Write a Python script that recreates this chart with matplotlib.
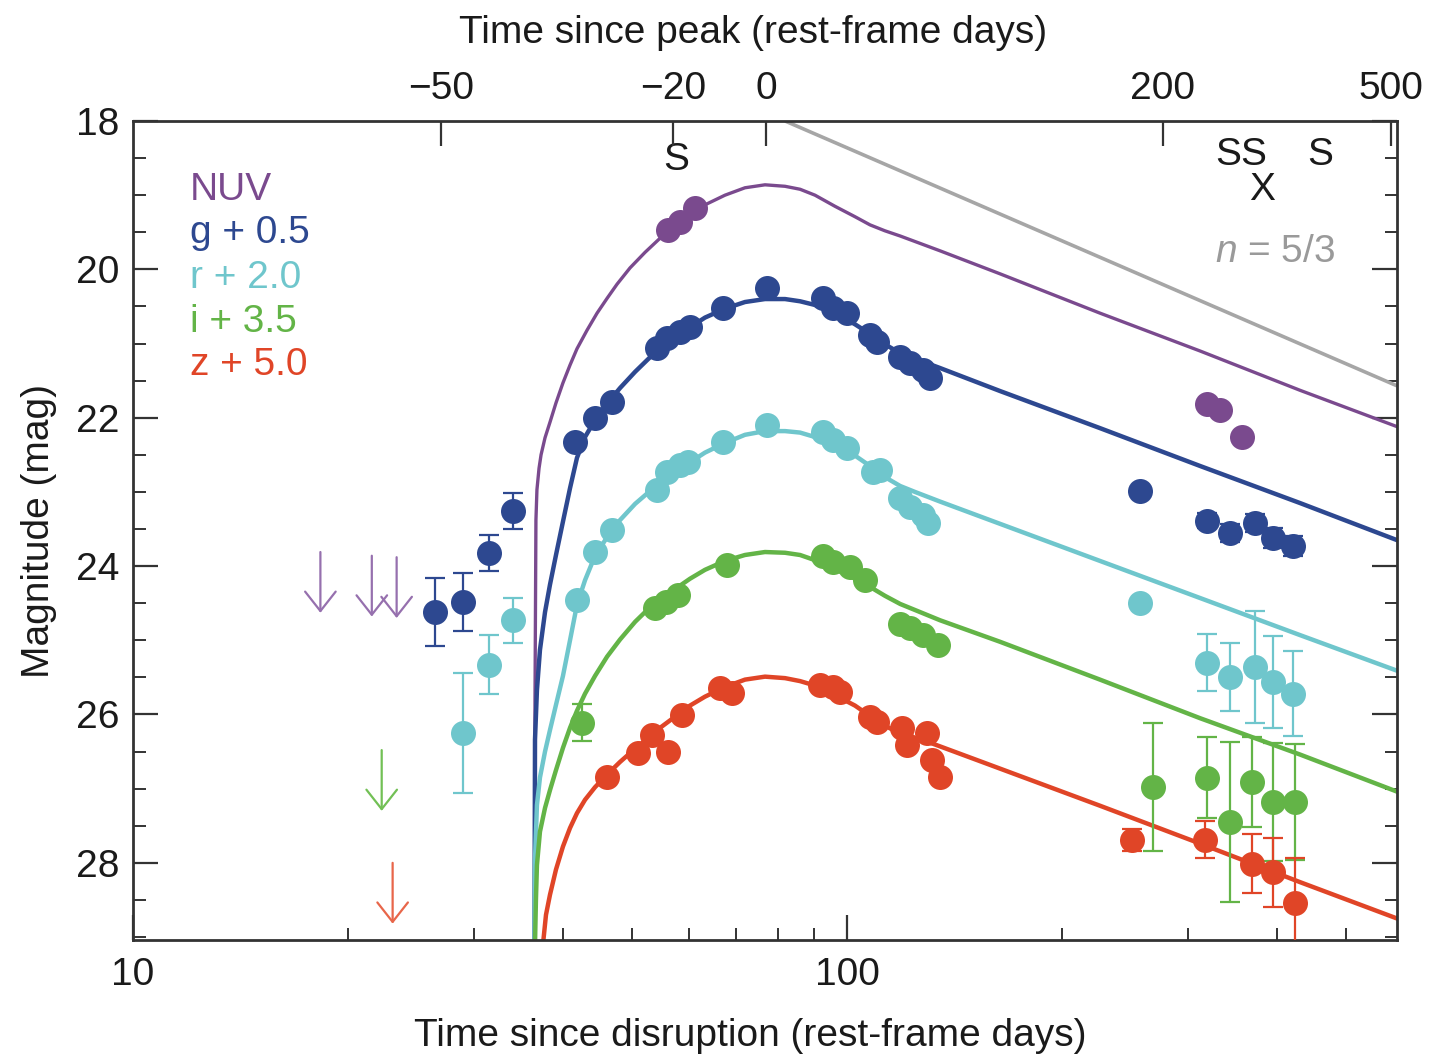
import matplotlib
matplotlib.use('Agg')
import matplotlib.pyplot as plt
from matplotlib.ticker import FixedLocator, FixedFormatter, NullFormatter, NullLocator

plt.rcParams['font.family'] = ['Liberation Sans', 'DejaVu Sans']
plt.rcParams['mathtext.fontset'] = 'custom'
plt.rcParams['mathtext.it'] = 'Liberation Sans:italic'
plt.rcParams['mathtext.rm'] = 'Liberation Sans'

# ---------------- data (time since disruption in rest-frame days, magnitude) -------------
t_peak = 77.0

nuv_t = [56.2, 58.4, 61.3, 319.3, 333.0, 357.4]
nuv_m = [19.47, 19.36, 19.17, 21.81, 21.89, 22.26]
nuv_lim_t = [18.3, 21.6, 23.4]
nuv_lim_m = [23.81, 23.86, 23.88]

g_t = [26.5, 29.0, 31.5, 34.1,
       41.6, 44.4, 46.9, 54.2, 56.0, 58.4, 60.3, 67.0, 77.3, 92.6, 95.6, 100.0,
       107.7, 110.2, 118.7, 122.5, 127.8, 130.7,
       257.3, 319.3, 343.9, 372.7, 395.0, 421.3]
g_m = [24.62, 24.48, 23.82, 23.26,
       22.33, 22.00, 21.79, 21.06, 20.92, 20.84, 20.78, 20.52, 20.25, 20.39, 20.52, 20.59,
       20.88, 20.98, 21.18, 21.26, 21.36, 21.46,
       22.99, 23.39, 23.55, 23.42, 23.62, 23.73]
g_err = [0.46, 0.39, 0.24, 0.24,
         0, 0, 0, 0, 0, 0, 0, 0, 0, 0, 0, 0, 0, 0, 0, 0, 0, 0,
         0, 0.10, 0.12, 0.12, 0.14, 0.14]

r_t = [29.0, 31.5, 34.1,
       41.9, 44.4, 46.9, 54.2, 56.0, 58.4, 59.9, 67.0, 77.3, 92.6, 95.6, 100.0,
       108.7, 111.2, 118.7, 122.5, 127.8, 129.8,
       257.3, 319.3, 343.9, 372.7, 395.0, 421.3]
r_m = [26.25, 25.33, 24.73,
       24.46, 23.81, 23.51, 22.97, 22.73, 22.64, 22.60, 22.33, 22.10, 22.19, 22.30, 22.41,
       22.73, 22.70, 23.08, 23.20, 23.31, 23.42,
       24.50, 25.30, 25.49, 25.36, 25.56, 25.72]
r_err = [0.81, 0.40, 0.30,
         0, 0, 0, 0, 0, 0, 0, 0, 0, 0, 0, 0, 0, 0, 0, 0, 0, 0,
         0, 0.38, 0.46, 0.75, 0.62, 0.57]

i_t = [42.6, 53.8, 55.7, 58.0, 67.9, 92.6, 95.6, 101.0, 106.0, 118.7, 122.5, 127.8, 134.1,
       268.3, 319.3, 343.9, 369.1, 395.0, 424.1]
i_m = [26.11, 24.56, 24.48, 24.39, 23.98, 23.86, 23.94, 24.01, 24.19, 24.78, 24.83, 24.93, 25.06,
       26.98, 26.85, 27.45, 26.91, 27.18, 27.18]
i_err = [0.25, 0, 0, 0, 0, 0, 0, 0, 0, 0, 0, 0, 0,
         0.86, 0.55, 1.08, 0.60, 0.80, 0.78]
i_lim_t = [22.3]
i_lim_m = [26.48]

z_t = [46.1, 51.0, 53.3, 56.2, 58.7, 66.4, 69.0, 91.7, 95.6, 97.8, 107.7, 110.2,
       119.4, 121.4, 129.4, 131.5, 135.0,
       250.6, 317.2, 369.1, 395.0, 424.1]
z_m = [26.84, 26.52, 26.28, 26.50, 26.01, 25.64, 25.71, 25.60, 25.63, 25.70, 26.03, 26.10,
       26.18, 26.41, 26.25, 26.61, 26.84,
       27.69, 27.69, 28.01, 28.13, 28.54]
z_err = [0, 0, 0, 0, 0, 0, 0, 0, 0, 0, 0, 0, 0, 0, 0, 0, 0,
         0.15, 0.25, 0.40, 0.47, 0.60]
z_lim_t = [23.1]
z_lim_m = [28.0]

# model light curves
mod_t_common = [41.86, 42.96, 44.37, 46.13, 48.09, 50.50, 52.65, 54.72, 57.42, 60.27, 63.25,
                67.46, 71.96, 76.76, 81.88, 85.95, 90.20, 96.21, 102.6, 107.7, 113.0, 118.7]

nuv_mod_t = [36.50, 36.56, 36.67, 36.79, 37.04, 37.28, 37.76, 38.37, 39.12, 40.01, 40.93,
             41.86, 43.24, 44.66, 46.13, 47.63, 49.67, 52.14, 54.72, 57.42, 60.27, 63.25,
             67.46, 71.96, 76.76, 81.88, 85.95, 90.20, 96.21, 102.6, 107.7, 113.0, 118.7,
             135.0, 163.8, 226.1, 312.2, 431.0, 589.3]
nuv_mod_m = [29.10, 25.80, 23.38, 22.97, 22.68, 22.50, 22.27, 22.06, 21.80, 21.53, 21.29,
             21.07, 20.82, 20.59, 20.39, 20.20, 19.98, 19.77, 19.58, 19.42, 19.27, 19.13,
             19.00, 18.90, 18.86, 18.88, 18.92, 19.00, 19.15, 19.29, 19.40, 19.48, 19.55,
             19.75, 20.06, 20.59, 21.10, 21.63, 22.12]

g_mod_t = [36.50, 36.56, 36.79, 37.15, 37.76, 38.37, 39.12, 40.01, 40.93] + mod_t_common + \
          [135.0, 163.8, 226.1, 312.2, 431.0, 589.3]
g_mod_m = [29.10, 26.34, 25.67, 25.13, 24.62, 24.25, 23.85, 23.40, 22.95,
           22.54, 22.26, 22.03, 21.81, 21.60, 21.38, 21.21, 21.06, 20.91, 20.78, 20.65,
           20.53, 20.44, 20.40, 20.40, 20.43, 20.48, 20.59, 20.74, 20.87, 21.01, 21.13,
           21.33, 21.64, 22.14, 22.65, 23.15, 23.65]

r_mod_t = [36.50, 36.56, 36.79, 37.15, 37.76, 38.37, 39.12, 40.01, 40.93] + mod_t_common + \
          [124.5, 135.0, 163.8, 226.1, 312.2, 431.0, 589.3]
r_mod_m = [29.10, 27.96, 27.22, 26.85, 26.50, 26.21, 25.87, 25.48, 25.00,
           24.52, 24.19, 23.86, 23.61, 23.38, 23.16, 23.01, 22.89, 22.74, 22.60, 22.47,
           22.34, 22.23, 22.18, 22.18, 22.20, 22.26, 22.37, 22.51, 22.65, 22.80, 22.92,
           23.00, 23.13, 23.43, 23.93, 24.43, 24.93, 25.41]

i_mod_t = [36.56, 36.67, 36.79, 37.15, 37.76, 38.37, 39.12, 40.01, 40.93] + mod_t_common + \
          [126.6, 135.0, 163.8, 226.1, 312.2, 431.0, 589.3]
i_mod_m = [29.10, 28.50, 28.03, 27.58, 27.26, 27.02, 26.75, 26.45, 26.18,
           25.95, 25.72, 25.48, 25.22, 24.99, 24.75, 24.58, 24.46, 24.31, 24.17, 24.05,
           23.93, 23.85, 23.81, 23.82, 23.85, 23.92, 24.04, 24.17, 24.28, 24.40, 24.51,
           24.62, 24.73, 25.02, 25.53, 26.05, 26.54, 27.04]

z_mod_t = [37.51, 37.88, 38.37, 39.12, 40.01, 40.93] + mod_t_common + \
          [130.7, 153.6, 226.1, 312.2, 431.0, 589.3]
z_mod_m = [29.10, 28.70, 28.43, 28.09, 27.78, 27.53,
           27.33, 27.15, 26.98, 26.81, 26.64, 26.46, 26.32, 26.18, 26.03, 25.88, 25.76,
           25.63, 25.53, 25.49, 25.51, 25.55, 25.61, 25.74, 25.88, 26.02, 26.15, 26.26,
           26.38, 26.63, 27.23, 27.74, 28.26, 28.75]

n53_t = [81.9, 589.3]
n53_m = [18.0, 21.57]

spec_t = [57.6, 341.7, 370.3, 459.7]
spec_m = [18.53, 18.46, 18.46, 18.46]
xray_t = [381.2]
xray_m = [18.93]

top_tick_offsets = [-50, -20, 0, 200, 500]
top_tick_labels = ['\u221250', '\u221220', '0', '200', '500']
bottom_major = [10, 100]
bottom_major_labels = ['10', '100']
bottom_minor = [20, 30, 40, 50, 60, 70, 80, 90, 200, 300, 400, 500]
y_major = [18, 20, 22, 24, 26, 28]
y_minor = [18.5, 19, 19.5, 20.5, 21, 21.5, 22.5, 23, 23.5, 24.5, 25, 25.5, 26.5, 27, 27.5,
           28.5, 29]

legend_labels = ['NUV', 'g + 0.5', 'r + 2.0', 'i + 3.5', 'z + 5.0']

# ---------------- style ----------------
c_nuv = '#7A4A8E'
c_g = '#2D4890'
c_r = '#6FC6CC'
c_i = '#63B447'
c_z = '#E04527'
c_gray = '#A6A6A6'
FS = 28
ink = '#1a1a1a'

fig = plt.figure(figsize=(14.41, 10.55), dpi=100)
ax = fig.add_axes([0.0923, 0.1090, 0.8772, 0.7763])
ax.set_xscale('log')
ax.set_xlim(10, 589.3)
ax.set_ylim(29.04, 18)

# model curves
ax.plot(n53_t, n53_m, color=c_gray, lw=2.6, zorder=2, solid_capstyle='butt')
ax.plot(nuv_mod_t, nuv_mod_m, color=c_nuv, lw=2.4, zorder=2, solid_joinstyle='round')
ax.plot(g_mod_t, g_mod_m, color=c_g, lw=3.2, zorder=2, solid_joinstyle='round')
ax.plot(r_mod_t, r_mod_m, color=c_r, lw=3.2, zorder=2, solid_joinstyle='round')
ax.plot(i_mod_t, i_mod_m, color=c_i, lw=3.2, zorder=2, solid_joinstyle='round')
ax.plot(z_mod_t, z_mod_m, color=c_z, lw=3.2, zorder=2, solid_joinstyle='round')

# data points
ms = 18
def pts(t, m, err, c):
    ax.errorbar(t, m, yerr=err, fmt='o', color=c, ms=ms, mec='none', elinewidth=1.6,
                capsize=7, capthick=1.6, zorder=3)

ax.plot(nuv_t, nuv_m, 'o', color=c_nuv, ms=ms, mec='none', zorder=3)
pts(g_t, g_m, g_err, c_g)
pts(r_t, r_m, r_err, c_r)
pts(i_t, i_m, i_err, c_i)
pts(z_t, z_m, z_err, c_z)

# upper limits
def lims(t, m, c):
    for tt, mm in zip(t, m):
        ax.annotate('', xy=(tt, mm + 0.82), xytext=(tt, mm),
                    arrowprops=dict(arrowstyle='->,head_length=0.7,head_width=0.55',
                                    color=c, lw=1.6, mutation_scale=20,
                                    shrinkA=0, shrinkB=0), zorder=3)

lims(nuv_lim_t, nuv_lim_m, '#9670AE')
lims(i_lim_t, i_lim_m, '#72C055')
lims(z_lim_t, z_lim_m, '#E8664A')

# annotations
for tt, mm in zip(spec_t, spec_m):
    ax.text(tt, mm, 'S', fontsize=FS, ha='center', va='center', color=ink, zorder=4)
for tt, mm in zip(xray_t, xray_m):
    ax.text(tt, mm, 'X', fontsize=FS, ha='center', va='center', color=ink, zorder=4)
ax.text(397.6, 19.76, r'$n$ = 5/3', fontsize=FS, ha='center', va='center', color='#9a9a9a')

legend_colors = [c_nuv, c_g, c_r, c_i, c_z]
legend_y = [0.9035, 0.851, 0.796, 0.742, 0.690]
for lab, col, yy in zip(legend_labels, legend_colors, legend_y):
    ax.text(0.045, yy, lab, transform=ax.transAxes, fontsize=FS, color=col,
            ha='left', va='baseline')

# axes styling
ax.xaxis.set_major_locator(FixedLocator(bottom_major))
ax.xaxis.set_major_formatter(FixedFormatter(bottom_major_labels))
ax.xaxis.set_minor_locator(FixedLocator(bottom_minor))
ax.xaxis.set_minor_formatter(NullFormatter())
ax.yaxis.set_major_locator(FixedLocator(y_major))
ax.yaxis.set_minor_locator(FixedLocator(y_minor))
ax.tick_params(which='both', direction='in', top=False, right=True, color='#333333',
               labelsize=FS, labelcolor=ink)
ax.tick_params(which='major', length=18, width=1.6)
ax.tick_params(which='minor', length=9, width=1.4)
ax.tick_params(axis='x', which='major', pad=12)
ax.tick_params(axis='y', which='major', pad=10)
for s in ax.spines.values():
    s.set_linewidth(2.0)
    s.set_color('#333333')

ax2 = ax.twiny()
ax2.set_xscale('log')
ax2.set_xlim(ax.get_xlim())
ax2.xaxis.set_major_locator(FixedLocator([t_peak + o for o in top_tick_offsets]))
ax2.xaxis.set_major_formatter(FixedFormatter(top_tick_labels))
ax2.xaxis.set_minor_locator(NullLocator())
ax2.tick_params(which='major', direction='in', length=18, width=1.6, color='#333333',
                labelsize=FS, labelcolor=ink, pad=10)
for s in ax2.spines.values():
    s.set_visible(False)

ax.set_xlabel('Time since disruption (rest-frame days)', fontsize=FS, color=ink)
ax.xaxis.set_label_coords(0.488, -0.095)
ax2.set_xlabel('Time since peak (rest-frame days)', fontsize=FS, color=ink)
ax2.xaxis.set_label_coords(0.4905, 1.095)
ax.set_ylabel('Magnitude (mag)', fontsize=FS, color=ink)
ax.yaxis.set_label_coords(-0.060, 0.50)

fig.savefig('out.png', dpi=100)
